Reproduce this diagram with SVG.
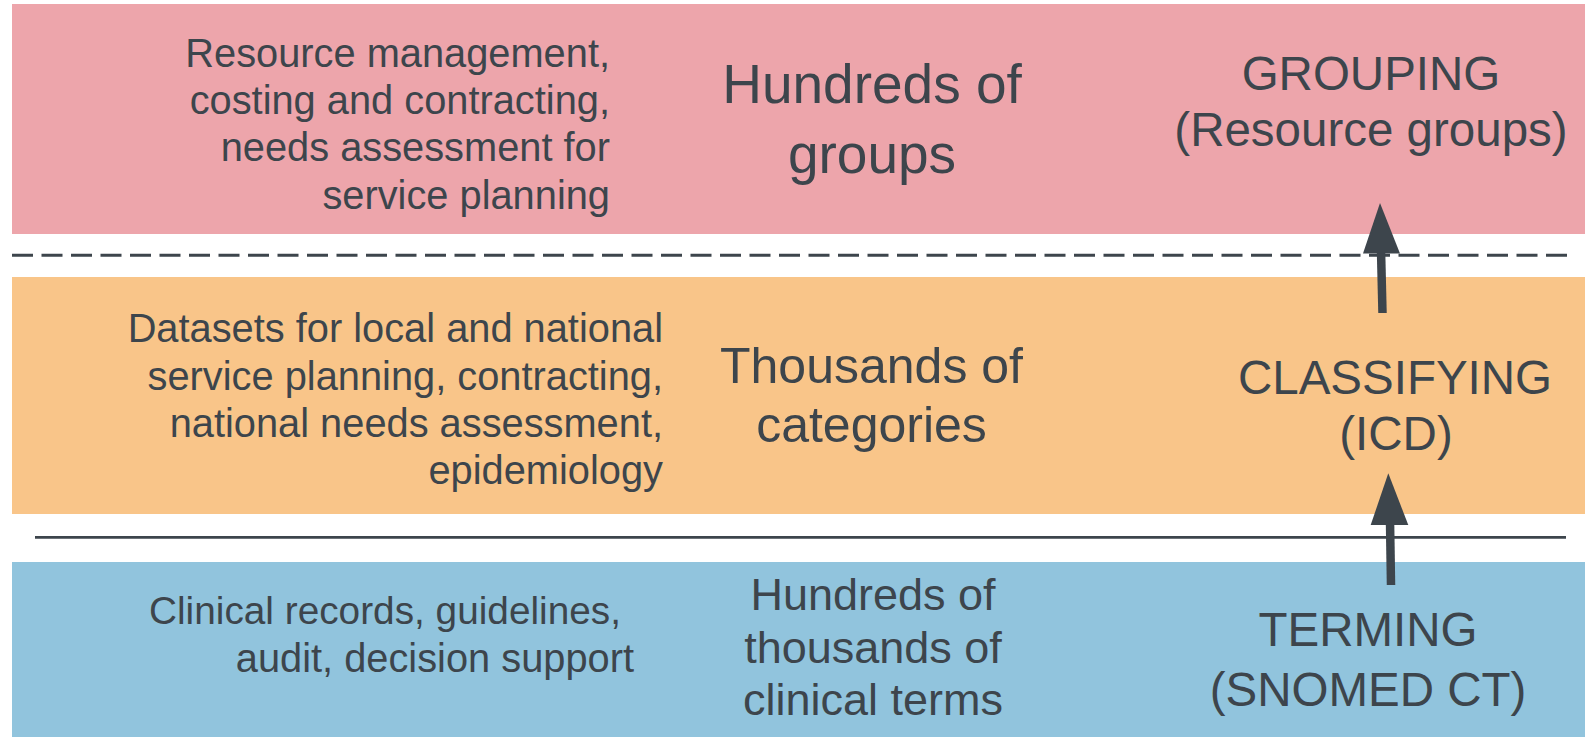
<svg xmlns="http://www.w3.org/2000/svg" width="1585" height="737" viewBox="0 0 1585 737">
  <style>
    text { font-family: "Liberation Sans", Arial, sans-serif; fill: #3d454c; }
    .desc { font-size: 39.8px; text-anchor: end; }
    .mid { text-anchor: middle; }
    .proc { font-size: 47.5px; text-anchor: middle; }
    .conn { stroke: #3d454c; fill: none; }
    .head { fill: #3d454c; stroke: none; }
  </style>
  <rect width="1585" height="737" fill="#ffffff"/>
  <g id="band-grouping">
    <rect x="12" y="4" width="1573" height="230" fill="#eda5ab"/>
    <text class="desc" x="610" y="66.5">Resource management,</text>
    <text class="desc" x="610" y="113.8">costing and contracting,</text>
    <text class="desc" x="610" y="161.1">needs assessment for</text>
    <text class="desc" x="610" y="209">service planning</text>
    <text class="mid" x="872" y="103" font-size="55">Hundreds of</text>
    <text class="mid" x="872" y="173" font-size="55">groups</text>
    <text class="proc" x="1371" y="90">GROUPING</text>
    <text class="proc" x="1371" y="146">(Resource groups)</text>
  </g>
  <g id="band-classifying">
    <rect x="12" y="277" width="1573" height="237" fill="#f9c589"/>
    <text class="desc" x="663" y="342">Datasets for local and national</text>
    <text class="desc" x="663" y="389.5">service planning, contracting,</text>
    <text class="desc" x="663" y="437">national needs assessment,</text>
    <text class="desc" x="663" y="484">epidemiology</text>
    <text class="mid" x="871.5" y="383" font-size="50">Thousands of</text>
    <text class="mid" x="871.5" y="442" font-size="50">categories</text>
    <text class="proc" x="1395" y="394">CLASSIFYING</text>
    <text class="proc" x="1396" y="450">(ICD)</text>
  </g>
  <g id="band-terming">
    <rect x="12" y="562" width="1573" height="175" fill="#91c4dd"/>
    <text x="149" y="624" font-size="39.2" textLength="472" lengthAdjust="spacingAndGlyphs">Clinical records, guidelines,</text>
    <text class="desc" x="634" y="672" font-size="39.2">audit, decision support</text>
    <text class="mid" x="873" y="610" font-size="45">Hundreds of</text>
    <text class="mid" x="873" y="662.5" font-size="45">thousands of</text>
    <text class="mid" x="873" y="715" font-size="45">clinical terms</text>
    <text class="proc" x="1368" y="646">TERMING</text>
    <text class="proc" x="1368" y="706">(SNOMED CT)</text>
  </g>
  <g id="connectors">
    <line class="conn" x1="12" y1="255.3" x2="1570" y2="255.3" stroke-width="3" stroke-dasharray="21 8.5"/>
    <line class="conn" x1="35" y1="537.3" x2="1566" y2="537.3" stroke-width="2.8"/>
    <line class="conn" x1="1382.5" y1="313" x2="1381" y2="250" stroke-width="8.5"/>
    <polygon class="head" points="1380,203 1400,253.5 1363,253.5"/>
    <line class="conn" x1="1391" y1="585" x2="1390" y2="520" stroke-width="8.5"/>
    <polygon class="head" points="1388.3,473.3 1408.3,525 1370.7,525"/>
  </g>
</svg>
